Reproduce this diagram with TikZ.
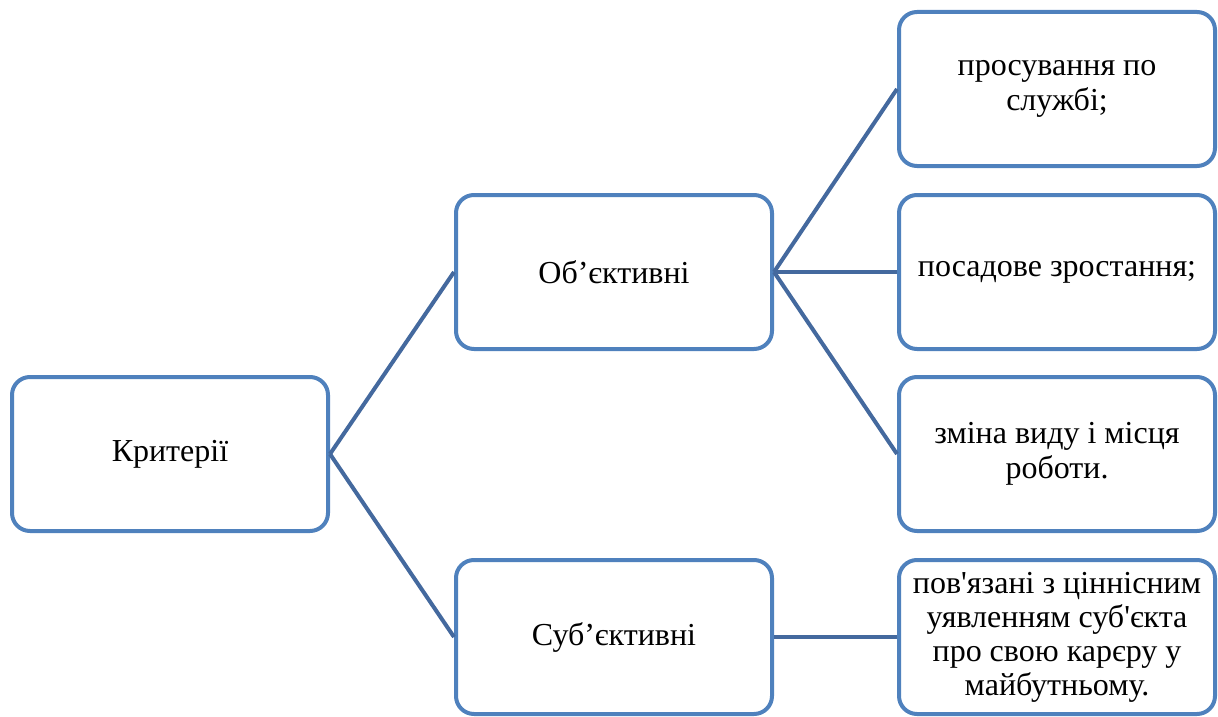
\documentclass[tikz,border=0pt]{standalone}
\usepackage{fontspec}
\newfontfamily\boxfont{Liberation Serif}
\definecolor{boxblue}{HTML}{4F81BD}
\definecolor{linkblue}{HTML}{44699E}
\tikzset{
  crit/.style={draw=boxblue,line width=4pt,rounded corners=18pt,fill=white,
    minimum width=316pt,minimum height=154pt,align=center,
    font=\boxfont\fontsize{32}{35}\selectfont},
  link/.style={draw=linkblue,line width=4pt}
}
\begin{document}
\begin{tikzpicture}[x=1pt,y=-1pt]
  \useasboundingbox (0,0) rectangle (1218,717);
  \node[crit] (krit) at (170,454) {Критерії};
  \node[crit] (obj) at (614,272) {Об’єктивні};
  \node[crit] (sub) at (614,637) {Суб’єктивні};
  \node[crit] (prosuv) at (1057,89) {просування по\\службі;};
  \node[crit] (posad) at (1057,272) {посадове зростання;};
  \node[crit] (zmina) at (1057,454) {зміна виду і місця\\роботи.};
  \node[crit,font=\boxfont\fontsize{32}{34}\selectfont] (povyaz) at (1057,637)
    {пов'язані з ціннісним\\уявленням суб'єкта\\про свою карєру у\\майбутньому.};
  % links between levels
  \foreach \a/\b in {krit/obj,krit/sub,obj/prosuv,obj/posad,obj/zmina,sub/povyaz}
    \draw[link] (\a.east) -- (\b.west);
\end{tikzpicture}
\end{document}
